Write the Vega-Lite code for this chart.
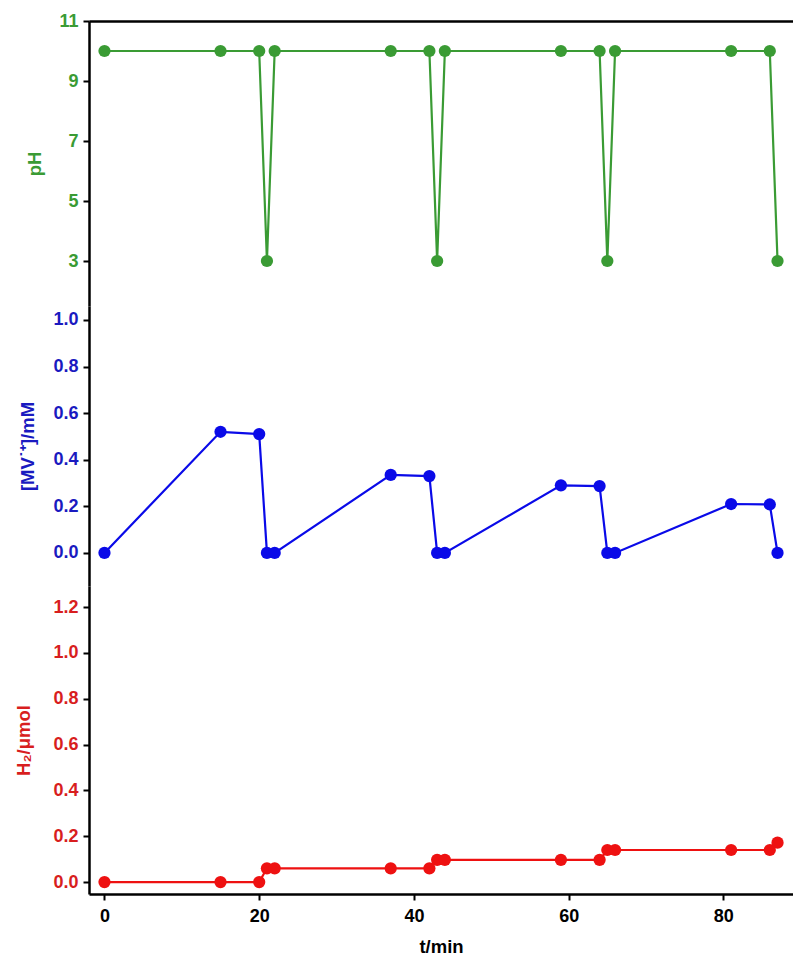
{
  "$schema": "https://vega.github.io/schema/vega-lite/v6.json",
  "padding": {"left": 14, "top": 12, "right": 0, "bottom": 5},
  "spacing": 0,
  "background": "white",
  "config": {
    "view": {"stroke": null},
    "font": "Liberation Sans",
    "axis": {
      "grid": false,
      "domainColor": "black",
      "domainWidth": 2.5,
      "tickColor": "black",
      "tickWidth": 2,
      "tickSize": 6,
      "labelFont": "Liberation Sans",
      "labelFontWeight": "bold",
      "labelFontSize": 18,
      "titleFont": "Liberation Sans",
      "titleFontWeight": "bold",
      "titleFontSize": 18.5,
      "labelPadding": 5
    }
  },
  "datasets": {
    "ph": [
      {"t": 0, "v": 10}, {"t": 15, "v": 10}, {"t": 20, "v": 10}, {"t": 21, "v": 3}, {"t": 22, "v": 10},
      {"t": 37, "v": 10}, {"t": 42, "v": 10}, {"t": 43, "v": 3}, {"t": 44, "v": 10},
      {"t": 59, "v": 10}, {"t": 64, "v": 10}, {"t": 65, "v": 3}, {"t": 66, "v": 10},
      {"t": 81, "v": 10}, {"t": 86, "v": 10}, {"t": 87, "v": 3}
    ],
    "mv": [
      {"t": 0, "v": 0}, {"t": 15, "v": 0.52}, {"t": 20, "v": 0.51}, {"t": 21, "v": 0}, {"t": 22, "v": 0},
      {"t": 37, "v": 0.335}, {"t": 42, "v": 0.33}, {"t": 43, "v": 0}, {"t": 44, "v": 0},
      {"t": 59, "v": 0.29}, {"t": 64, "v": 0.287}, {"t": 65, "v": 0}, {"t": 66, "v": 0},
      {"t": 81, "v": 0.21}, {"t": 86, "v": 0.208}, {"t": 87, "v": 0}
    ],
    "h2": [
      {"t": 0, "v": 0}, {"t": 15, "v": 0}, {"t": 20, "v": 0}, {"t": 21, "v": 0.06}, {"t": 22, "v": 0.06},
      {"t": 37, "v": 0.06}, {"t": 42, "v": 0.06}, {"t": 43, "v": 0.097}, {"t": 44, "v": 0.097},
      {"t": 59, "v": 0.097}, {"t": 64, "v": 0.097}, {"t": 65, "v": 0.14}, {"t": 66, "v": 0.14},
      {"t": 81, "v": 0.14}, {"t": 86, "v": 0.14}, {"t": 87, "v": 0.172}
    ]
  },
  "vconcat": [
    {
      "width": 704,
      "height": 285,
      "data": {"name": "ph"},
      "encoding": {
        "x": {"field": "t", "type": "quantitative", "scale": {"domain": [-2, 89], "nice": false, "zero": false},
              "axis": {"orient": "top", "labels": false, "ticks": false, "title": null, "minExtent": 0, "maxExtent": 0}},
        "y": {"field": "v", "type": "quantitative", "scale": {"domain": [1.5, 11], "nice": false, "zero": false},
              "axis": {"values": [3, 5, 7, 9, 11], "title": "pH", "labelColor": "#3a9b34", "titleColor": "#3a9b34",
                       "minExtent": 40, "maxExtent": 40, "titlePadding": 5}}
      },
      "layer": [
        {"mark": {"type": "line", "color": "#3a9b34", "strokeWidth": 2.2}},
        {"mark": {"type": "point", "filled": true, "opacity": 1, "color": "#3a9b34", "size": 150}}
      ]
    },
    {
      "width": 704,
      "height": 280,
      "data": {"name": "mv"},
      "encoding": {
        "x": {"field": "t", "type": "quantitative", "scale": {"domain": [-2, 89], "nice": false, "zero": false}, "axis": null},
        "y": {"field": "v", "type": "quantitative", "scale": {"domain": [-0.142, 1.06], "nice": false, "zero": false},
              "axis": {"values": [0, 0.2, 0.4, 0.6, 0.8, 1.0], "format": ".1f", "title": "[MV˙⁺]/mM", "labelColor": "#1a1ac0", "titleColor": "#1a1ac0",
                       "minExtent": 40, "maxExtent": 40, "titlePadding": 12}}
      },
      "layer": [
        {"mark": {"type": "line", "color": "#0a0ae8", "strokeWidth": 2.2}},
        {"mark": {"type": "point", "filled": true, "opacity": 1, "color": "#0a0ae8", "size": 150}}
      ]
    },
    {
      "width": 704,
      "height": 308,
      "data": {"name": "h2"},
      "encoding": {
        "x": {"field": "t", "type": "quantitative", "scale": {"domain": [-2, 89], "nice": false, "zero": false},
              "axis": {"values": [0, 20, 40, 60, 80], "title": "t/min", "labelColor": "black", "titleColor": "black", "labelPadding": 7, "titlePadding": 12}},
        "y": {"field": "v", "type": "quantitative", "scale": {"domain": [-0.052, 1.292], "nice": false, "zero": false},
              "axis": {"values": [0, 0.2, 0.4, 0.6, 0.8, 1.0, 1.2], "format": ".1f", "title": "H₂/μmol", "labelColor": "#d81e1e", "titleColor": "#d81e1e",
                       "minExtent": 40, "maxExtent": 40, "titlePadding": 16}}
      },
      "layer": [
        {"mark": {"type": "line", "color": "#ee1111", "strokeWidth": 2.2}},
        {"mark": {"type": "point", "filled": true, "opacity": 1, "color": "#ee1111", "size": 150}}
      ]
    }
  ]
}
